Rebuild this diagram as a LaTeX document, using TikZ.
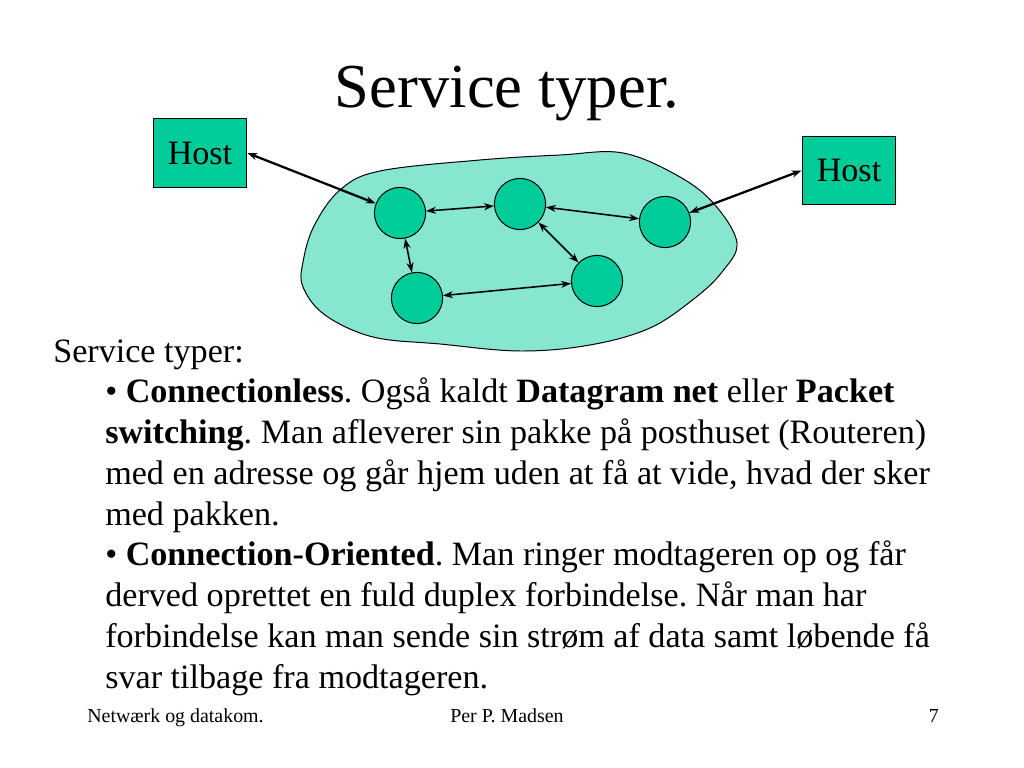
\documentclass[tikz,border=0pt]{standalone}
\usepackage{fontspec}
\setmainfont{Liberation Serif}
\frenchspacing
\usetikzlibrary{arrows.meta,positioning}
\definecolor{nodegreen}{RGB}{0,204,153}
\definecolor{netgreen}{RGB}{134,230,208}

\tikzset{
  host/.style={draw, line width=0.7pt, fill=nodegreen, minimum width=66pt, minimum height=48pt, inner sep=0pt, font=\fontsize{24}{28}\selectfont},
  router/.style={circle, draw, line width=0.7pt, fill=nodegreen, minimum size=36pt, inner sep=0pt},
  link/.style={{Stealth[length=7pt,width=5pt]}-{Stealth[length=7pt,width=5pt]}, line width=1.1pt},
  hostlink/.style={link, line width=1.6pt},
  bodytext/.style={anchor=base west, inner sep=0pt, align=left, font=\fontsize{24}{28.65}\selectfont},
  foot/.style={anchor=base, inner sep=0pt, font=\fontsize{14}{16}\selectfont}
}

\begin{document}
\begin{tikzpicture}[x=0.703125pt, y=-0.703125pt]
    \useasboundingbox (0,0) rectangle (1024,768);

    % Title
    \node[anchor=base, inner sep=0pt, font=\fontsize{44}{50}\selectfont] (title) at (507,108) {Service typer.};

    % The network cloud
    \draw[line width=0.7pt, fill=netgreen] plot[smooth cycle, tension=0.6] coordinates {
        (303,262) (314,226) (340,190) (380,171) (480,160) (560,155) (623,153)
        (680,177) (715,205) (737,243) (722,272) (695,298) (650,328) (590,345)
        (520,351) (440,344) (373,337) (325,315) (303,287)};

    % Routers and hosts
    \node[router] (r1) at (400,213) {};
    \node[router] (r2) at (520,204) {};
    \node[router] (r3) at (665,222) {};
    \node[router] (r4) at (417,298) {};
    \node[router] (r5) at (597,281) {};
    \node[host] (hostL) at (200,153) {Host};
    \node[host] (hostR) at (849,170.5) {Host};

    % Links
    \draw[hostlink] (hostL.east) -- (r1);
    \draw[hostlink] (hostR.west) -- (r3);
    \draw[link] (r1) -- (r2);
    \draw[link] (r1) -- (r4);
    \draw[link] (r2) -- (r3);
    \draw[link] (r2) -- (r5);
    \draw[link] (r4) -- (r5);

    % Text
    \node[bodytext] (typer) at (53,362) {Service typer:};
    \node[bodytext] (bullets) at (105,688) {%
        • \textbf{Connectionless}. Også kaldt \textbf{Datagram net} eller \textbf{Packet}\\
        \textbf{switching}. Man afleverer sin pakke på posthuset (Routeren)\\
        med en adresse og går hjem uden at få at vide, hvad der sker\\
        med pakken.\\
        • \textbf{Connection-Oriented}. Man ringer modtageren op og får\\
        derved oprettet en fuld duplex forbindelse. Når man har\\
        forbindelse kan man sende sin strøm af data samt løbende få\\
        svar tilbage fra modtageren.};

    % Footer
    \node[foot, anchor=base west] (course) at (87,722) {Netwærk og datakom.};
    \node[foot] (author) at (507,722) {Per P. Madsen};
    \node[foot, anchor=base east] (page) at (939,722) {7};
\end{tikzpicture}
\end{document}
